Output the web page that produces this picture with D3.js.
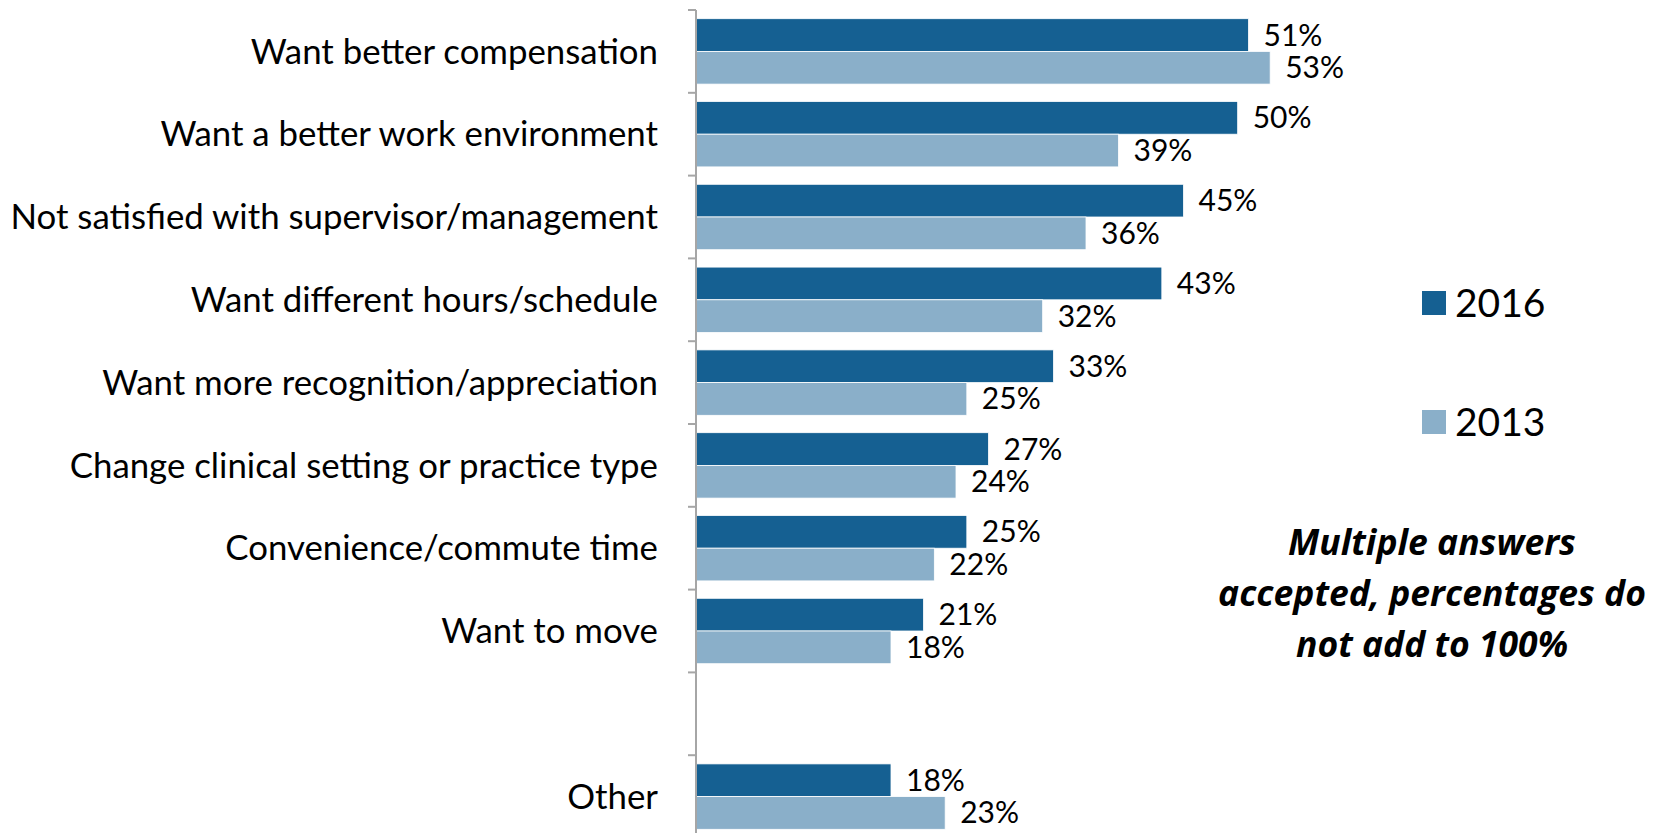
<!DOCTYPE html>
<html>
<head>
<meta charset="utf-8">
<script src="https://cdn.jsdelivr.net/npm/d3@7"></script>
<style>
  body { margin: 0; background: #fff; }
  svg { display: block; font-family: Lato, "Open Sans", sans-serif; }
</style>
</head>
<body>
<svg id="chart" width="1673" height="833"></svg>
<script>
var categories = [
  "Want better compensation",
  "Want a better work environment",
  "Not satisfied with supervisor/management",
  "Want different hours/schedule",
  "Want more recognition/appreciation",
  "Change clinical setting or practice type",
  "Convenience/commute time",
  "Want to move",
  "",
  "Other"
];
var series = ["2016", "2013"];
var values2016 = [51, 50, 45, 43, 33, 27, 25, 21, null, 18];
var values2013 = [53, 39, 36, 32, 25, 24, 22, 18, null, 23];
var noteLines = ["Multiple answers", "accepted, percentages do", "not add to 100%"];

var colorArray = ["#156092", "#8aafc9"];

var svg = d3.select("#chart");

var x = d3.scaleLinear().domain([0, 60]).range([696, 1346]);
var y = d3.scaleBand().domain(categories).range([10, 838])
  .paddingInner(0.21).paddingOuter(0.105);
var ySub = d3.scaleBand().domain(series).range([0, y.bandwidth()]);

var rows = categories.map(function (c, i) {
  return { cat: c, vals: [values2016[i], values2013[i]] };
});

// bars
var groups = svg.selectAll("g.row")
  .data(rows)
  .join("g")
  .attr("class", "row")
  .attr("transform", function (d) { return "translate(0," + y(d.cat) + ")"; });

groups.each(function (row) {
  var g = d3.select(this);
  row.vals.forEach(function (v, k) {
    if (v == null) return;
    g.append("rect")
      .attr("x", x(0))
      .attr("y", ySub(series[k]))
      .attr("width", x(v) - x(0))
      .attr("height", ySub.bandwidth())
      .attr("fill", colorArray[k])
      .attr("stroke", "#ffffff")
      .attr("stroke-width", 0.8);
    g.append("text")
      .attr("x", x(v) + 15)
      .attr("y", ySub(series[k]) + ySub.bandwidth() / 2)
      .attr("dy", "0.35em")
      .attr("font-size", 30)
      .attr("fill", "#000")
      .text(v + "%");
  });
});

// axis line with ticks at band boundaries
var step = y.step();
var tickYs = categories.map(function (c) { return y(c) - step * y.paddingInner() / 2; });
tickYs.push(tickYs[tickYs.length - 1] + step);

var axis = svg.append("g").attr("class", "axis");
axis.append("line")
  .attr("x1", x(0)).attr("x2", x(0))
  .attr("y1", tickYs[0]).attr("y2", 833)
  .attr("stroke", "#a6a6a6").attr("stroke-width", 2);
axis.selectAll("line.tick")
  .data(tickYs)
  .join("line")
  .attr("class", "tick")
  .attr("x1", x(0) - 8).attr("x2", x(0))
  .attr("y1", function (d) { return d; })
  .attr("y2", function (d) { return d; })
  .attr("stroke", "#a6a6a6").attr("stroke-width", 2);

// category labels
axis.selectAll("text.cat")
  .data(categories)
  .join("text")
  .attr("class", "cat")
  .attr("x", 658)
  .attr("y", function (d) { return y(d) + y.bandwidth() / 2; })
  .attr("dy", "0.35em")
  .attr("text-anchor", "end")
  .attr("font-size", 34.8)
  .attr("fill", "#000")
  .text(function (d) { return d; });

// legend
var legendY = [303, 422];
var legend = svg.append("g").attr("class", "legend");
series.forEach(function (s, k) {
  legend.append("rect")
    .attr("x", 1422).attr("y", legendY[k] - 12)
    .attr("width", 24).attr("height", 24)
    .attr("fill", colorArray[k]);
  legend.append("text")
    .attr("x", 1455).attr("y", legendY[k])
    .attr("dy", "0.36em")
    .attr("font-size", 39)
    .attr("fill", "#000")
    .text(s);
});

// note
svg.append("text")
  .attr("x", 1432)
  .attr("text-anchor", "middle")
  .attr("font-family", "'Open Sans', Lato, sans-serif")
  .attr("font-size", 35.5)
  .attr("font-weight", "bold")
  .attr("font-style", "italic")
  .selectAll("tspan")
  .data(noteLines)
  .join("tspan")
  .attr("x", 1432)
  .attr("y", function (d, i) { return 555 + i * 51; })
  .text(function (d) { return d; });
</script>
</body>
</html>
